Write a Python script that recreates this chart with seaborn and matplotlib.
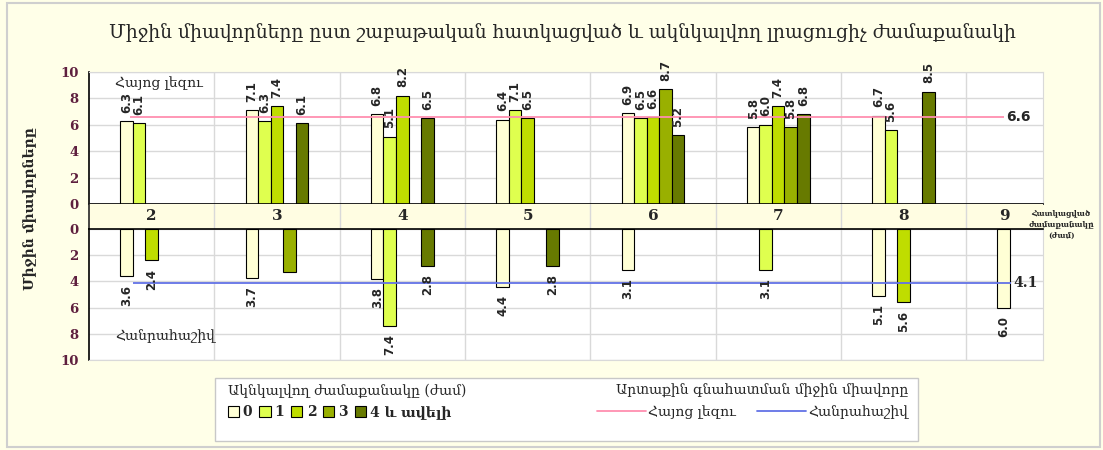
import numpy as np
import pandas as pd
import matplotlib
matplotlib.use("Agg")
import matplotlib.pyplot as plt
from matplotlib.patches import Patch, Rectangle
from matplotlib.lines import Line2D
import seaborn as sns

nan = np.nan

grades = ["2", "3", "4", "5", "6", "7", "8", "9"]
hours = ["0", "1", "2", "3", "4"]
hour_labels = ["0", "1", "2", "3", "4 և ավելի"]
hour_colors = ["#FFFFD5", "#DFFF4F", "#BFDD00", "#99B000", "#677A00"]

# Հայոց լեզու: one row per grade, one column per expected extra hours
armenian = [
    [6.3, 6.1, nan, nan, nan],
    [7.1, 6.3, 7.4, nan, 6.1],
    [6.8, 5.1, 8.2, nan, 6.5],
    [6.4, 7.1, 6.5, nan, nan],
    [6.9, 6.5, 6.6, 8.7, 5.2],
    [5.8, 6.0, 7.4, 5.8, 6.8],
    [6.7, 5.6, nan, nan, 8.5],
    [nan, nan, nan, nan, nan],
]
# Հանրահաշիվ
algebra = [
    [3.6, nan, 2.4, nan, nan],
    [3.7, nan, nan, 3.3, nan],
    [3.8, 7.4, nan, nan, 2.8],
    [4.4, nan, nan, nan, 2.8],
    [3.1, nan, nan, nan, nan],
    [nan, 3.1, nan, nan, nan],
    [5.1, nan, 5.6, nan, nan],
    [6.0, nan, nan, nan, nan],
]
algebra_unlabeled = [("3", "3")]

armenian_mean = 6.6
algebra_mean = 4.1

title = "Միջին միավորները ըստ շաբաթական հատկացված և ակնկալվող լրացուցիչ ժամաքանակի"
ylabel = "Միջին միավորները"
legend_bar_title = "Ակնկալվող ժամաքանակը (ժամ)"
legend_line_title = "Արտաքին գնահատման միջին միավորը"
subject_names = ["Հայոց լեզու", "Հանրահաշիվ"]
xlabel = "Հատկացված\nժամաքանակը\n(ժամ)"

bg = "#FFFFE8"
band = "#FFFDE2"
grid_c = "#D9D9D9"
tick_c = "#5E1F3E"
pink = "#FF8FB0"
blue = "#6272E6"


def to_long(table):
    rows = []
    for g, vals in zip(grades, table):
        for h, v in zip(hours, vals):
            rows.append({"grade": g, "hours": h, "score": v})
    return pd.DataFrame(rows).dropna()


df_arm = to_long(armenian)
df_alg = to_long(algebra)

sns.set_style("white")
plt.rcParams["font.family"] = ["DejaVu Serif", "DejaVu Sans"]

fig = plt.figure(figsize=(11.03, 4.5), dpi=100, facecolor=bg)
fig.add_artist(Rectangle((0.006, 0.006), 0.991, 0.988, transform=fig.transFigure,
                         fill=False, edgecolor="#CFCFCF", linewidth=1.5, zorder=0))

left, width = 0.0807, 0.865
xmax = 7.114
ax_top = fig.add_axes([left, 0.5467, width, 0.2933])
ax_mid = fig.add_axes([left, 0.4911, width, 0.0556])
ax_bot = fig.add_axes([left, 0.2, width, 0.291])


def draw_panel(ax, df, down=False, skip=()):
    sns.barplot(data=df, x="grade", y="score", hue="hours", order=grades, hue_order=hours,
                palette=hour_colors, saturation=1, width=0.5, edgecolor="black",
                linewidth=0.8, errorbar=None, legend=False, ax=ax)
    for h, cont in zip(hours, ax.containers):
        sub = df[df.hours == h]
        for bar, g, v in zip(cont, sub.grade, sub.score):
            if (g, h) in skip:
                continue
            ax.annotate(f"{v:.1f}", (bar.get_x() + bar.get_width() / 2, bar.get_height()),
                        xytext=(0, -6 if down else 6), textcoords="offset points",
                        ha="center", va="top" if down else "bottom", rotation=90,
                        fontsize=8.5, fontweight="bold", family="DejaVu Sans", zorder=5)
    ax.set_facecolor("white")
    ax.set_xlim(-0.5, xmax)
    ax.set_ylim(0, 10)
    ax.set_xticks([])
    ax.set_xticks(np.arange(0.5, 7, 1), minor=True)
    ax.set_yticks(range(0, 11, 2))
    ax.grid(which="minor", axis="x", color=grid_c, linewidth=1)
    ax.grid(which="major", axis="y", color=grid_c, linewidth=1)
    ax.set_axisbelow(True)
    ax.tick_params(axis="x", which="both", length=0)
    ax.tick_params(axis="y", direction="out", length=4, width=1, color="black",
                   labelsize=9.5, labelcolor=tick_c)
    for t in ax.get_yticklabels():
        t.set_fontweight("bold")
    ax.set_xlabel("")
    ax.set_ylabel("")
    for s in ax.spines.values():
        s.set_color(grid_c)
    ax.spines["left"].set_color("black")
    ax.spines["left"].set_linewidth(1.2)


draw_panel(ax_top, df_arm)
ax_top.spines["bottom"].set_color("black")
ax_top.spines["bottom"].set_linewidth(1.2)
ax_top.hlines(armenian_mean, -0.17, 6.8, color=pink, linewidth=1.3, zorder=4)
ax_top.text(6.82, armenian_mean, f"{armenian_mean:.1f}", va="center", ha="left",
            fontsize=10, fontweight="bold", family="DejaVu Sans")
ax_top.text(0.027, 0.92, subject_names[0], transform=ax_top.transAxes, va="center",
            ha="left", fontsize=10)

draw_panel(ax_bot, df_alg, down=True, skip=algebra_unlabeled)
ax_bot.invert_yaxis()
ax_bot.spines["top"].set_color("black")
ax_bot.spines["top"].set_linewidth(1.2)
ax_bot.hlines(algebra_mean, -0.15, 6.86, color=blue, linewidth=1.3, zorder=4)
ax_bot.text(6.88, algebra_mean, f"{algebra_mean:.1f}", va="center", ha="left",
            fontsize=10, fontweight="bold")
ax_bot.text(0.027, 0.18, subject_names[1], transform=ax_bot.transAxes, va="center",
            ha="left", fontsize=10)

# category band between the two panels
ax_mid.set_facecolor(band)
ax_mid.set_xlim(-0.5, xmax)
ax_mid.set_ylim(0, 1)
ax_mid.set_xticks([])
ax_mid.set_yticks([])
ax_mid.set_xticks(np.arange(0.5, 7, 1), minor=True)
ax_mid.grid(which="minor", axis="x", color=grid_c, linewidth=1)
ax_mid.tick_params(which="both", length=0)
for s in ["top", "bottom", "right"]:
    ax_mid.spines[s].set_visible(False)
ax_mid.spines["left"].set_linewidth(1.2)
for i, g in enumerate(grades):
    x = i if i < len(grades) - 1 else (i - 0.5 + xmax) / 2
    ax_mid.text(x, 0.5, g, ha="center", va="center", fontsize=11, fontweight="bold")

fig.text(0.5095, 0.927, title, ha="center", va="center", fontsize=13.5)
fig.text(0.027, 0.536, ylabel, rotation=90, ha="center", va="center",
         fontsize=10, fontweight="bold")
fig.text(0.962, 0.5, xlabel, ha="center", va="center", fontsize=5.5,
         fontweight="bold", linespacing=1.4)

# legend box
fig.add_artist(Rectangle((215 / 1103, 1 - 441 / 450), 703 / 1103, 63 / 450,
                         transform=fig.transFigure, facecolor="white",
                         edgecolor="#C8C8C8", linewidth=1, zorder=1))
bar_handles = [Patch(facecolor=c, edgecolor="black", linewidth=0.8) for c in hour_colors]
leg1 = fig.legend(bar_handles, hour_labels, title=legend_bar_title, ncol=5,
                  loc="upper left", bbox_to_anchor=(222 / 1103, 1 - 378 / 450),
                  frameon=False, handlelength=0.8, handleheight=0.8, handletextpad=0.3,
                  columnspacing=0.5, alignment="left", borderaxespad=0,
                  prop={"weight": "bold", "size": 10}, title_fontsize=10)
leg1.set_zorder(3)
line_handles = [Line2D([], [], color=pink, linewidth=1.3), Line2D([], [], color=blue, linewidth=1.3)]
leg2 = fig.legend(line_handles, subject_names, title=legend_line_title, ncol=2,
                  loc="upper right", bbox_to_anchor=(914 / 1103, 1 - 378 / 450),
                  frameon=False, handlelength=3.5, handletextpad=0.2, columnspacing=1.5,
                  alignment="right", borderaxespad=0, prop={"size": 10}, title_fontsize=10)
leg2.set_zorder(3)

fig.savefig("out.png", dpi=100, facecolor=bg)
